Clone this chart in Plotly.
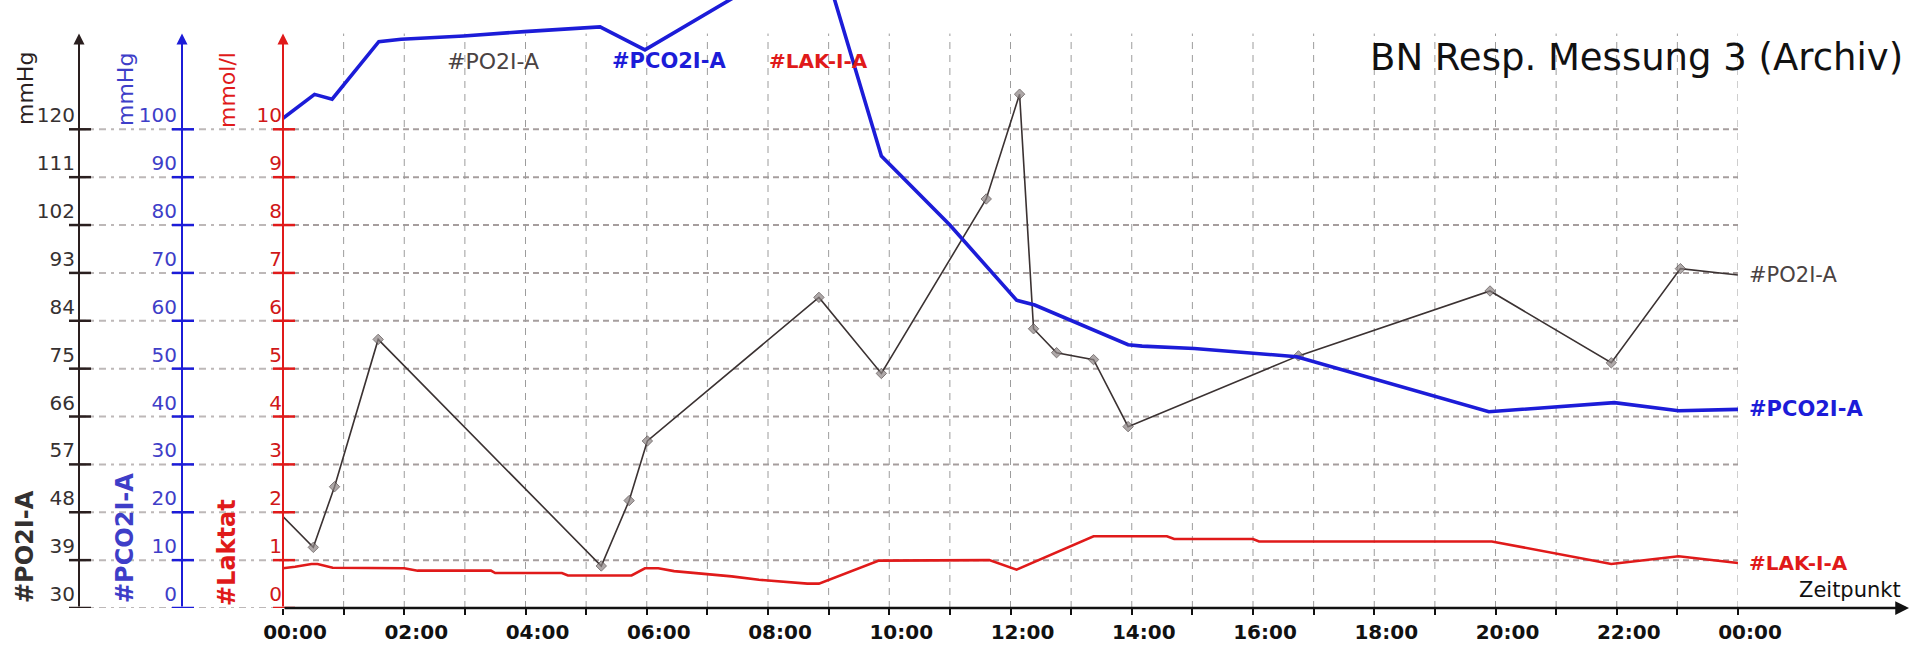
import plotly.graph_objects as go

# ---------------- data ----------------
hours_po2 = [0.0, 0.50, 0.85, 1.57, 5.25, 5.71, 6.01, 8.84, 9.87, 11.60, 12.15,
             12.38, 12.76, 13.37, 13.94, 16.75, 19.91, 21.91, 23.05, 24.0]
po2 = [47.2, 41.4, 52.8, 80.5, 37.9, 50.2, 61.4, 88.4, 74.1, 106.9, 126.6,
       82.5, 78.0, 76.7, 64.1, 77.4, 89.6, 76.1, 93.8, 92.6]

hours_pco2 = [0.0, 0.52, 0.81, 1.58, 1.95, 2.98, 3.98, 4.99, 5.23, 5.97, 8.84,
              9.87, 11.0, 12.1, 12.4, 13.94, 14.17, 15.03, 16.04, 16.72, 19.89,
              21.1, 21.96, 23.02, 24.0]
pco2 = [102.3, 107.3, 106.3, 118.3, 118.8, 119.5, 120.4, 121.2, 121.4, 116.6, 138.0,
        94.4, 80.0, 64.3, 63.3, 55.0, 54.7, 54.2, 53.2, 52.5, 41.0,
        42.1, 42.9, 41.2, 41.5]

hours_lak = [0.0, 0.2, 0.47, 0.57, 0.82, 2.0, 2.22, 3.43, 3.5, 4.6, 4.7, 5.75,
             5.97, 6.19, 6.45, 6.8, 7.4, 7.85, 8.3, 8.65, 8.84, 9.83, 11.65,
             12.1, 13.37, 14.58, 14.7, 16.0, 16.1, 19.94, 21.91, 23.02, 24.0]
lak = [0.83, 0.86, 0.92, 0.92, 0.84, 0.83, 0.78, 0.78, 0.73, 0.73, 0.68, 0.68,
       0.83, 0.83, 0.77, 0.73, 0.66, 0.59, 0.54, 0.51, 0.51, 0.99, 1.0,
       0.8, 1.5, 1.5, 1.44, 1.44, 1.39, 1.39, 0.92, 1.08, 0.94]

x_tickvals = [0, 2, 4, 6, 8, 10, 12, 14, 16, 18, 20, 22, 24]
x_ticktext = ["00:00", "02:00", "04:00", "06:00", "08:00", "10:00", "12:00",
              "14:00", "16:00", "18:00", "20:00", "22:00", "00:00"]
po2_ticks = [30, 39, 48, 57, 66, 75, 84, 93, 102, 111, 120]
pco2_ticks = [0, 10, 20, 30, 40, 50, 60, 70, 80, 90, 100]
lak_ticks = [0, 1, 2, 3, 4, 5, 6, 7, 8, 9, 10]

title_text = "BN Resp. Messung 3 (Archiv)"
name_po2, name_pco2, name_lak = "#PO2I-A", "#PCO2I-A", "#LAK-I-A"
unit_po2, unit_pco2, unit_lak = "mmHg", "mmHg", "mmol/l"
axis_po2, axis_pco2, axis_lak = "#PO2I-A", "#PCO2I-A", "#Laktat"
x_title = "Zeitpunkt"

# ---------------- layout geometry ----------------
W, H = 1911, 656
X0_PX, X1_PX = 283, 1738          # 00:00 .. 24:00
Y0_PX = 608                       # value 0 of the Laktat scale
UNIT_PX = 47.87                   # pixels per Laktat unit
LAK_TOP = Y0_PX / UNIT_PX         # plot area extends to top of figure
AX_TOP = 12.0                     # arrow tip of the vertical axes
AX_PO2_PX, AX_PCO2_PX, AX_LAK_PX = 79, 182, 283
FONT = "DejaVu Sans"

C_PO2_LINE = "#3b3232"
C_PO2_AXIS = "#2a1f1f"
C_PO2_TXT = "#363131"
C_BLUE = "#1c1cd8"
C_BLUE_TXT = "#3e3ec8"
C_RED = "#e01a1a"
C_RED_TXT = "#d01818"
C_GRID = "#a69e9e"
C_GRID_LEFT = "#bdb8b8"


def px(xp):
    return xp / W


def py(yp):
    return 1 - yp / H


fig = go.Figure()

fig.add_trace(go.Scatter(
    x=hours_po2, y=po2, yaxis="y", mode="lines+markers",
    line=dict(color=C_PO2_LINE, width=1.6),
    marker=dict(symbol="diamond", size=[0] + [8] * (len(po2) - 2) + [0],
                color="#8c8484", line=dict(color="#4a4040", width=1)),
    showlegend=False, hoverinfo="skip"))
fig.add_trace(go.Scatter(
    x=hours_pco2, y=pco2, yaxis="y2", mode="lines",
    line=dict(color=C_BLUE, width=3.6), showlegend=False, hoverinfo="skip"))
fig.add_trace(go.Scatter(
    x=hours_lak, y=lak, yaxis="y3", mode="lines",
    line=dict(color=C_RED, width=2.6), showlegend=False, hoverinfo="skip"))

ydom = [(H - Y0_PX) / H, 1]
common_y = dict(domain=ydom, anchor="free", side="left", showgrid=False,
                zeroline=False, showline=False, ticks="", tickmode="array",
                ticklabelposition="outside top", automargin=False, fixedrange=True)

shapes = []
# horizontal dashed grid lines (lighter dash-dot left of the plot area)
for v in lak_ticks:
    shapes.append(dict(type="line", xref="paper", yref="y3",
                       x0=px(AX_PO2_PX), x1=px(X0_PX), y0=v, y1=v, layer="below",
                       line=dict(color=C_GRID_LEFT, width=2, dash="7px,5px,3px,5px")))
    shapes.append(dict(type="line", xref="paper", yref="y3",
                       x0=px(X0_PX), x1=px(X1_PX), y0=v, y1=v, layer="below",
                       line=dict(color=C_GRID, width=2, dash="6px,4px")))
# vertical dashed grid lines (every hour)
for h in range(1, 25):
    shapes.append(dict(type="line", xref="x", yref="y3",
                       x0=h, x1=h, y0=0, y1=AX_TOP, layer="below",
                       line=dict(color="#9c9c9c", width=1, dash="7px,6px")))
# crossing tick marks on the vertical axes
for ticks_, yref, axpx, col in [(po2_ticks, "y", AX_PO2_PX, C_PO2_AXIS),
                                (pco2_ticks, "y2", AX_PCO2_PX, C_BLUE),
                                (lak_ticks, "y3", AX_LAK_PX, C_RED)]:
    for v in ticks_:
        shapes.append(dict(type="line", xref="paper", yref=yref,
                           x0=px(axpx - 10), x1=px(axpx + 12), y0=v, y1=v,
                           line=dict(color=col, width=2.5)))

annotations = []
# vertical axis lines with arrow heads
for axpx, col in [(AX_PO2_PX, C_PO2_AXIS), (AX_PCO2_PX, C_BLUE), (AX_LAK_PX, C_RED)]:
    annotations.append(dict(x=px(axpx), y=AX_TOP, xref="paper", yref="y3",
                            ax=0, ay=AX_TOP * UNIT_PX, axref="pixel", ayref="pixel",
                            showarrow=True, arrowhead=2, arrowsize=1.1,
                            arrowwidth=2, arrowcolor=col, text="", standoff=0))
# horizontal time axis with arrow head
annotations.append(dict(x=px(1909), y=0, xref="paper", yref="y3",
                        ax=-(1909 - X0_PX), ay=0, axref="pixel", ayref="pixel",
                        showarrow=True, arrowhead=2, arrowsize=1.1, arrowwidth=2.5,
                        arrowcolor="#111111", text="", standoff=0))

# axis titles (rotated)
for txt, xc, yc, col, size, bold in [
        (unit_po2, 25, 89, C_PO2_AXIS, 22, False),
        (unit_pco2, 125, 89, C_BLUE_TXT, 22, False),
        (unit_lak, 227, 90, C_RED, 22, False),
        (axis_po2, 25, 547, "#333030", 24, True),
        (axis_pco2, 125, 538, C_BLUE_TXT, 24, True),
        (axis_lak, 227, 553, C_RED, 24, True)]:
    annotations.append(dict(x=px(xc), y=py(yc), xref="paper", yref="paper",
                            text=f"<b>{txt}</b>" if bold else txt, textangle=-90,
                            showarrow=False, xanchor="center", yanchor="middle",
                            font=dict(family=FONT, size=size, color=col)))

# series labels at the top
for txt, xc, col, size, bold in [(name_po2, 493, "#4a4242", 22, False),
                                  (name_pco2, 669, C_BLUE, 21, True),
                                  (name_lak, 818, C_RED, 20, True)]:
    annotations.append(dict(x=px(xc), y=py(61), xref="paper", yref="paper",
                            text=f"<b>{txt}</b>" if bold else txt, showarrow=False,
                            xanchor="center", yanchor="middle",
                            font=dict(family=FONT, size=size, color=col)))

# series labels at the line ends
for txt, yv, yref, col, size, bold in [(name_po2, po2[-1], "y", "#4a4242", 21, False),
                                        (name_pco2, pco2[-1], "y2", C_BLUE, 21, True),
                                        (name_lak, lak[-1], "y3", C_RED, 20, True)]:
    annotations.append(dict(x=24, y=yv, xref="x", yref=yref, xshift=9,
                            text=f"<b>{txt}</b>" if bold else txt, showarrow=False,
                            xanchor="left", yanchor="middle",
                            font=dict(family=FONT, size=size, color=col)))

# "Zeitpunkt"
annotations.append(dict(x=px(1903), y=py(590), xref="paper", yref="paper",
                        text=x_title, showarrow=False, xanchor="right", yanchor="middle",
                        font=dict(family=FONT, size=21, color="#111111")))
# title
annotations.append(dict(x=px(1905), y=py(58), xref="paper", yref="paper",
                        text=title_text, showarrow=False, xanchor="right", yanchor="middle",
                        font=dict(family=FONT, size=37, color="#111111")))

fig.update_layout(
    width=W, height=H, template="none",
    margin=dict(l=0, r=0, t=0, b=0, pad=0, autoexpand=False),
    paper_bgcolor="white", plot_bgcolor="rgba(0,0,0,0)",
    showlegend=False,
    xaxis=dict(domain=[px(X0_PX), px(X1_PX)], range=[0, 24], showgrid=False,
               zeroline=False, showline=False, tickmode="array",
               tickvals=x_tickvals, ticktext=x_ticktext, ticks="outside",
               ticklen=6, tickwidth=2, tickcolor="#111111", ticklabelshift=12,
               tickfont=dict(family=FONT, size=20, color="#111111", weight="bold"),
               minor=dict(tickmode="linear", tick0=0, dtick=1, ticks="outside",
                          ticklen=6, tickwidth=2, tickcolor="#111111", showgrid=False),
               automargin=False, fixedrange=True),
    yaxis=dict(common_y, range=[30, 30 + 9 * LAK_TOP], position=px(AX_PO2_PX),
               tickvals=po2_ticks, ticklabelstandoff=4,
               tickfont=dict(family=FONT, size=20, color=C_PO2_TXT)),
    yaxis2=dict(common_y, range=[0, 10 * LAK_TOP], position=px(AX_PCO2_PX),
                overlaying="y", tickvals=pco2_ticks, ticklabelstandoff=5,
                tickfont=dict(family=FONT, size=20, color=C_BLUE_TXT)),
    yaxis3=dict(common_y, range=[0, LAK_TOP], position=px(AX_LAK_PX),
                overlaying="y", tickvals=lak_ticks, ticklabelstandoff=1,
                tickfont=dict(family=FONT, size=20, color=C_RED_TXT)),
    shapes=shapes, annotations=annotations,
)

fig.write_html(
    "out.html",
    config={"displayModeBar": False, "staticPlot": True},
    post_script="document.body.style.margin='0';document.body.style.padding='0';"
                "document.body.style.overflow='hidden';",
)
